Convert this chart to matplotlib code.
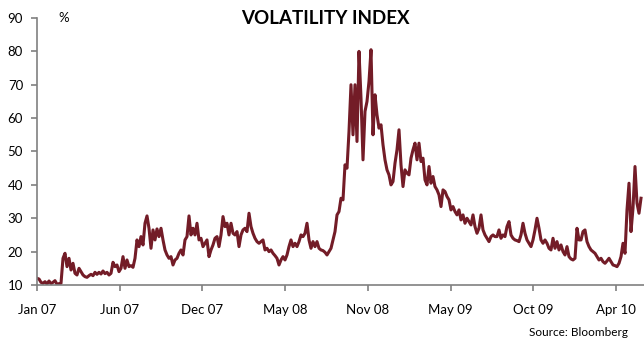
import numpy as np
import matplotlib
matplotlib.use("Agg")
import matplotlib.pyplot as plt

# ----------
# Data (VIX level, roughly every 1.4 trading days)
#
vix = [
    12.0, 11.8, 10.8, 10.5, 11.0, 10.3, 11.2, 10.4, 10.8, 11.3,
    10.2, 10.4, 10.5, 18.0, 19.5, 15.5, 18.0, 14.5, 16.5, 13.5,
    13.0, 15.0, 14.0, 13.0, 12.5, 12.3, 12.8, 13.2, 12.8, 13.8,
    13.2, 13.8, 13.3, 14.2, 13.4, 13.8, 13.0, 13.5, 16.8, 15.5,
    16.0, 14.0, 15.0, 18.5, 15.0, 17.5, 15.5, 15.8, 15.3, 18.0,
    23.5, 21.5, 24.5, 22.0, 28.5, 30.7, 27.0, 21.0, 26.5, 23.5,
    26.8, 24.5, 27.0, 23.5, 20.5, 19.0, 18.0, 18.5, 16.0, 17.5,
    18.0, 19.5, 20.5, 19.0, 23.5, 24.5, 30.7, 25.0, 27.0, 25.0,
    28.5, 23.5, 24.0, 21.5, 22.5, 23.5, 18.5, 20.5, 22.0, 24.0,
    24.5, 21.5, 25.0, 30.5, 27.5, 28.5, 25.0, 28.5, 25.5, 25.0,
    26.0, 21.5, 25.0, 26.5, 27.0, 26.0, 31.5, 27.5, 25.5, 24.0,
    23.0, 22.5, 23.0, 23.5, 20.5, 21.0, 20.0, 20.5, 19.5, 18.8,
    18.0, 16.0, 17.5, 18.5, 17.5, 19.0, 21.5, 23.5, 21.5, 22.5,
    21.5, 23.0, 25.0, 24.5, 25.5, 28.5, 23.5, 21.0, 23.0, 21.5,
    23.0, 21.0, 20.5, 20.3, 19.8, 19.0, 20.0, 21.0, 23.5, 26.0,
    31.0, 32.0, 36.0, 35.5, 46.0, 45.0, 56.0, 70.0, 55.0, 70.0,
    53.0, 80.0, 66.0, 47.5, 62.0, 65.0, 71.0, 80.5, 55.0, 67.0,
    61.0, 57.0, 58.0, 52.0, 47.5, 44.5, 43.0, 40.0, 41.0, 46.5,
    50.5, 56.5, 46.0, 39.5, 44.5, 43.5, 43.0, 48.0, 50.5, 52.5,
    47.5, 52.5, 47.0, 48.0, 41.5, 40.0, 45.5, 40.5, 42.5, 39.5,
    38.5, 37.0, 33.5, 38.5, 38.0, 36.5, 35.5, 32.5, 33.5, 32.0,
    31.0, 32.5, 29.5, 31.0, 28.5, 30.0, 29.0, 28.0, 31.0, 27.5,
    25.5, 27.0, 31.0, 26.5, 25.0, 24.0, 23.0, 24.5, 25.0, 24.5,
    24.5, 26.5, 24.0, 25.0, 24.5, 27.5, 29.0, 25.0, 24.0, 23.5,
    23.3, 23.0, 25.0, 28.5, 25.5, 23.5, 22.5, 21.5, 23.5, 26.5,
    30.0, 27.0, 23.5, 22.5, 23.5, 22.5, 21.0, 20.5, 24.0, 21.0,
    23.0, 20.5, 22.0, 20.0, 19.0, 21.5, 18.5, 17.8, 17.5, 18.0,
    27.0, 23.5, 23.5, 26.0, 26.5, 23.0, 21.5, 20.5, 20.0, 19.5,
    18.5, 17.5, 18.0, 17.0, 16.5, 17.2, 18.0, 17.0, 16.0, 15.8,
    15.5, 16.5, 18.5, 22.5, 19.5, 32.5, 40.5, 26.0, 33.0, 45.5,
    34.5, 31.5, 36.0,
]
tick_labels = ["Jan 07", "Jun 07", "Dec 07", "May 08", "Nov 08",
               "May 09", "Oct 09", "Apr 10"]
y_ticks = [10, 20, 30, 40, 50, 60, 70, 80, 90]

plt.rcParams['font.family'] = ['Lato', 'DejaVu Sans']

fig = plt.figure(figsize=(6.44, 3.40), dpi=100, facecolor="white")
ax = fig.add_axes([37 / 644, 55 / 340, 607 / 644, 267 / 340])

x = np.arange(len(vix))
ax.plot(x, vix, color="#731c27", lw=2.2, solid_joinstyle="round")

ax.set_xlim(0, 303.5)
ax.set_ylim(10, 90)
ax.set_yticks(y_ticks)
ax.set_xticks(np.arange(len(tick_labels)) * 41.35)
ax.set_xticklabels(tick_labels)

for s in ["top", "right"]:
    ax.spines[s].set_visible(False)
for s in ["left", "bottom"]:
    ax.spines[s].set_color("#808080")
    ax.spines[s].set_linewidth(1.2)
ax.tick_params(axis="y", direction="out", length=4, width=1.2,
               color="#808080", pad=6, labelsize=9.5, labelcolor="black")
ax.tick_params(axis="x", direction="out", length=4, width=1.2,
               color="#808080", pad=10, labelsize=9.5, labelcolor="black")

fig.text(0.505, 0.947, "VOLATILITY INDEX", ha="center", va="center",
         fontsize=13.5, fontweight="bold")
fig.text(64 / 644, 0.947, "%", ha="center", va="center", fontsize=9.5)
fig.text(628 / 644, 1 - 332 / 340, "Source: Bloomberg", ha="right",
         va="center", fontsize=8.5)

fig.savefig("out.png", dpi=100, facecolor="white")
